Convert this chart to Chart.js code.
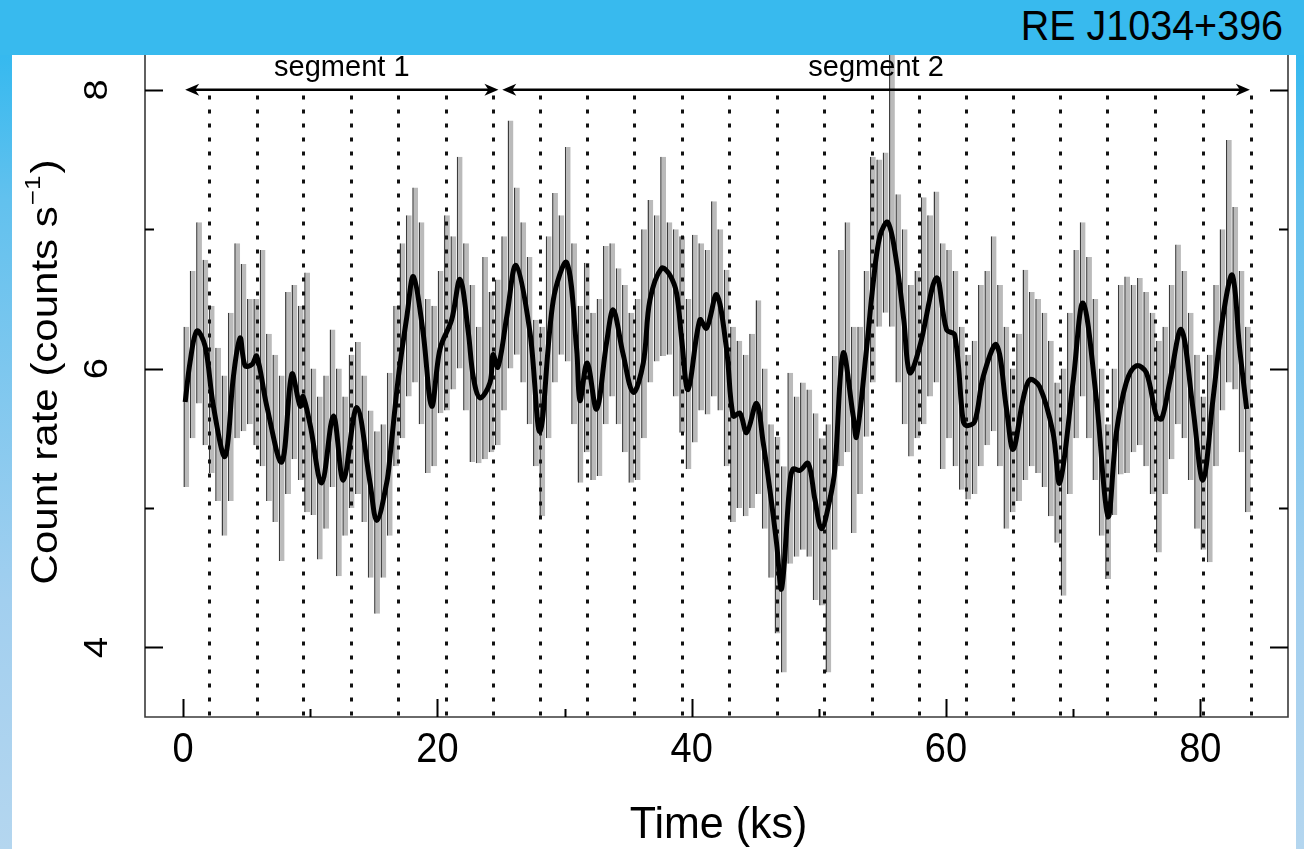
<!DOCTYPE html>
<html>
<head>
<meta charset="utf-8">
<title>RE J1034+396 light curve</title>
<script src="https://cdn.jsdelivr.net/npm/chart.js@4.4.1/dist/chart.umd.min.js"></script>
<style>
html, body { margin: 0; padding: 0; }
body {
    width: 1304px; height: 849px; overflow: hidden; position: relative;
    background: linear-gradient(to bottom, #36b9ef 0px, #36b9ef 56px, #62c1ee 200px, #a2cfef 600px, #b4d6ef 849px);
}
#band { position: absolute; left: 0; top: 0; width: 1304px; height: 55px; background: #38baee; }
#panel { position: absolute; left: 12px; top: 55px; width: 1284px; height: 794px; background: #fff; }
#title { position: absolute; right: 21px; top: 5px; font: 42px/42px "Liberation Sans", Arial, sans-serif; color: #000;
         transform: scaleX(0.94); transform-origin: right center; }
#lc { position: absolute; left: 0; top: 0; }
</style>
</head>
<body>
<div id="band"></div>
<div id="panel"></div>
<div id="title">RE J1034+396</div>
<canvas id="lc" width="1304" height="849"></canvas>
<script>
// light curve in 0.5 ks bins: bin centre (ks) and extent of the error bars (counts/s)
const binTime = [
    0.25, 0.75, 1.25, 1.75, 2.25, 2.75, 3.25, 3.75, 4.25, 4.75, 5.25, 5.75, 6.25, 6.75, 7.25, 7.75, 8.25, 8.75, 9.25, 9.75,
    10.25, 10.75, 11.25, 11.75, 12.25, 12.75, 13.25, 13.75, 14.25, 14.75, 15.25, 15.75, 16.25, 16.75, 17.25, 17.75, 18.25, 18.75, 19.25, 19.75,
    20.25, 20.75, 21.25, 21.75, 22.25, 22.75, 23.25, 23.75, 24.25, 24.75, 25.25, 25.75, 26.25, 26.75, 27.25, 27.75, 28.25, 28.75, 29.25, 29.75,
    30.25, 30.75, 31.25, 31.75, 32.25, 32.75, 33.25, 33.75, 34.25, 34.75, 35.25, 35.75, 36.25, 36.75, 37.25, 37.75, 38.25, 38.75, 39.25, 39.75,
    40.25, 40.75, 41.25, 41.75, 42.25, 42.75, 43.25, 43.75, 44.25, 44.75, 45.25, 45.75, 46.25, 46.75, 47.25, 47.75, 48.25, 48.75, 49.25, 49.75,
    50.25, 50.75, 51.25, 51.75, 52.25, 52.75, 53.25, 53.75, 54.25, 54.75, 55.25, 55.75, 56.25, 56.75, 57.25, 57.75, 58.25, 58.75, 59.25, 59.75,
    60.25, 60.75, 61.25, 61.75, 62.25, 62.75, 63.25, 63.75, 64.25, 64.75, 65.25, 65.75, 66.25, 66.75, 67.25, 67.75, 68.25, 68.75, 69.25, 69.75,
    70.25, 70.75, 71.25, 71.75, 72.25, 72.75, 73.25, 73.75, 74.25, 74.75, 75.25, 75.75, 76.25, 76.75, 77.25, 77.75, 78.25, 78.75, 79.25, 79.75,
    80.25, 80.75, 81.25, 81.75, 82.25, 82.75, 83.25, 83.75
];
const binLow = [
    5.15, 5.5, 5.75, 5.45, 5.25, 5.05, 4.8, 5.05, 5.5, 5.55, 5.6, 5.45, 5.3, 5.05, 4.9, 4.62, 5.1, 5.35, 5.2, 4.97,
    4.95, 4.63, 4.85, 5.15, 4.51, 4.8, 5.0, 5.1, 4.9, 4.5, 4.24, 4.5, 4.8, 5.3, 5.5, 5.8, 5.9, 5.6, 5.25, 5.3,
    5.68, 5.7, 5.85, 6.0, 5.7, 5.33, 5.32, 5.35, 5.4, 5.45, 5.7, 6.0, 6.1, 5.9, 5.6, 5.3, 4.94, 5.5, 5.9, 6.1,
    6.05, 5.6, 5.18, 5.4, 5.2, 5.23, 5.6, 5.8, 5.6, 5.4, 5.18, 5.2, 5.5, 5.9, 6.05, 6.09, 6.1, 5.8, 5.54, 5.28,
    5.47, 5.7, 5.67, 5.8, 5.7, 5.3, 4.9, 5.0, 4.94, 5.0, 5.1, 4.85, 4.5, 4.1, 3.82, 4.6, 4.65, 4.7, 4.65, 4.34,
    4.3, 3.82, 4.7, 5.3, 5.4, 4.82, 5.1, 5.51, 5.9, 6.3, 6.4, 6.3, 5.9, 5.6, 5.37, 5.5, 5.6, 5.8, 5.9, 5.28,
    5.5, 5.3, 5.13, 5.06, 5.1, 5.3, 5.45, 5.55, 5.3, 4.85, 4.97, 5.05, 5.2, 5.3, 5.25, 5.15, 4.94, 4.75, 4.37, 5.1,
    5.5, 5.8, 5.5, 5.2, 4.8, 4.49, 4.95, 5.24, 5.25, 5.4, 5.45, 5.3, 5.1, 4.68, 5.1, 5.35, 5.6, 5.5, 5.2, 4.85,
    4.7, 4.61, 5.3, 5.7, 5.9, 5.85, 5.4, 4.97
];
const binHigh = [
    6.3, 6.7, 7.05, 6.78, 6.45, 6.15, 5.95, 6.4, 6.9, 6.75, 6.5, 6.5, 6.85, 6.25, 6.1, 5.95, 6.55, 6.6, 6.45, 6.69,
    6.0, 5.8, 5.95, 6.28, 6.0, 5.8, 6.1, 6.19, 5.95, 5.7, 5.55, 5.6, 5.97, 6.45, 6.9, 7.1, 7.3, 7.05, 6.5, 6.45,
    6.7, 7.1, 6.95, 7.52, 6.9, 6.6, 6.3, 6.8, 6.55, 6.64, 6.95, 7.78, 7.3, 7.05, 6.8, 6.35, 6.3, 6.95, 7.26, 7.1,
    7.59, 6.9, 6.45, 6.76, 6.4, 6.5, 6.88, 6.9, 6.72, 6.6, 6.4, 6.5, 7.0, 7.21, 7.1, 7.52, 7.05, 7.0, 6.95, 6.5,
    6.96, 6.9, 6.85, 7.2, 7.0, 6.71, 6.3, 6.2, 6.1, 6.25, 6.49, 6.0, 5.6, 5.51, 5.3, 5.97, 5.8, 5.9, 5.85, 5.68,
    5.5, 5.6, 6.09, 6.85, 7.05, 6.3, 6.3, 6.7, 7.52, 7.5, 7.55, 8.3, 7.25, 7.0, 6.6, 6.7, 7.23, 7.1, 7.27, 6.9,
    6.85, 6.7, 6.3, 6.1, 6.2, 6.6, 6.7, 6.95, 6.6, 6.3, 6.0, 6.25, 6.71, 6.55, 6.5, 6.4, 6.2, 5.9, 6.0, 6.4,
    6.85, 7.05, 6.8, 6.5, 6.0, 5.6, 6.0, 6.6, 6.66, 6.6, 6.65, 6.55, 6.4, 6.2, 6.3, 6.6, 6.89, 6.7, 6.4, 6.1,
    5.8, 6.1, 6.6, 7.0, 7.64, 7.16, 6.7, 6.3
];

// smoothed light curve (black line)
const smoothTime = [
    0.16, 0.55, 1.08, 1.73, 2.38, 3.30, 3.95, 4.48, 4.87, 5.42, 5.79, 6.58, 7.76, 8.55, 9.20, 9.43, 9.98, 10.90, 11.82, 12.60,
    13.66, 14.70, 15.23, 16.01, 16.27, 16.93, 17.59, 18.11, 18.87, 19.55, 20.20, 21.12, 21.78, 22.43, 22.82, 23.35, 24.14, 24.37, 24.76, 25.45,
    26.18, 27.28, 28.07, 29.11, 30.17, 30.95, 31.21, 31.78, 32.52, 33.31, 33.83, 34.59, 35.40, 36.19, 36.71, 37.63, 38.29, 38.81, 39.21, 39.72,
    40.64, 41.17, 41.96, 42.74, 43.26, 43.79, 44.32, 45.10, 45.62, 46.15, 46.67, 47.07, 47.72, 47.98, 48.51, 49.16, 49.69, 50.21, 50.86, 51.26,
    51.91, 52.70, 52.96, 53.75, 54.27, 54.80, 55.42, 56.05, 56.68, 57.15, 57.94, 59.25, 60.04, 60.69, 61.34, 61.61, 62.26, 62.92, 63.97, 64.76,
    65.28, 66.06, 66.59, 67.37, 68.42, 68.95, 69.99, 70.78, 71.83, 72.74, 73.40, 74.18, 74.97, 75.76, 76.55, 76.97, 77.59, 78.51, 79.43, 80.21,
    81.00, 81.78, 82.52, 83.10, 83.65
];
const smoothRate = [
    5.76, 6.05, 6.27, 6.16, 5.73, 5.37, 5.94, 6.22, 6.02, 6.03, 6.09, 5.73, 5.33, 5.96, 5.73, 5.80, 5.60, 5.18, 5.66, 5.20,
    5.72, 5.18, 4.91, 5.18, 5.37, 5.94, 6.37, 6.66, 6.26, 5.73, 6.14, 6.35, 6.64, 6.26, 5.94, 5.79, 5.90, 6.10, 6.01, 6.37,
    6.74, 6.26, 5.55, 6.49, 6.76, 6.14, 5.77, 6.04, 5.71, 6.19, 6.42, 6.11, 5.83, 6.04, 6.49, 6.72, 6.67, 6.54, 6.21, 5.85,
    6.35, 6.29, 6.53, 6.14, 5.66, 5.68, 5.54, 5.75, 5.47, 5.13, 4.75, 4.42, 5.18, 5.28, 5.27, 5.32, 5.06, 4.85, 5.06, 5.28,
    6.11, 5.66, 5.51, 6.14, 6.61, 6.95, 7.05, 6.80, 6.35, 5.97, 6.16, 6.65, 6.28, 6.24, 5.63, 5.59, 5.62, 5.94, 6.17, 5.71,
    5.42, 5.78, 5.92, 5.87, 5.54, 5.18, 5.90, 6.47, 5.78, 4.94, 5.54, 5.90, 6.02, 5.97, 5.66, 5.64, 5.90, 6.28, 5.71, 5.20,
    5.78, 6.37, 6.67, 6.14, 5.71
];

// dotted lines one QPO period apart (ks)
const foldTimes = [2.04, 5.78, 9.43, 13.18, 16.9, 20.7, 24.4, 28.07, 31.8, 35.5, 39.2, 42.9,
    46.7, 50.4, 54.2, 57.9, 61.6, 65.3, 69.0, 72.7, 76.4, 80.2, 84.0];

const segStart = [0.16, 25.1];
const segEnd = [24.8, 83.9];
const segLabels = ['segment 1', 'segment 2'];
const segLevel = 8;

const xTicks = [0, 20, 40, 60, 80];
const xMinorTicks = [10, 30, 50, 70];
const yTicks = [4, 6, 8];
const yMinorTicks = [5, 7];

const FONT = '"Liberation Sans", Arial, Helvetica, sans-serif';

function drawText(ctx, s, x, y, size, o) {
    o = o || {};
    ctx.save();
    ctx.translate(x, y);
    if (o.rotate) {
        ctx.scale(o.sx || 1, 1);
        ctx.rotate(-Math.PI / 2);
    } else {
        ctx.scale(o.sx || 1, o.sy || 1);
    }
    ctx.font = size + 'px ' + FONT;
    ctx.fillStyle = '#000';
    ctx.textAlign = o.align || 'center';
    ctx.textBaseline = o.baseline || 'middle';
    ctx.fillText(s, 0, 0);
    ctx.restore();
}

function drawYTitle(ctx, x, y) {
    const main = 'Count rate (counts s', sup = '\u22121', tail = ')';
    ctx.save();
    ctx.translate(x, y);
    ctx.scale(0.86, 1);
    ctx.rotate(-Math.PI / 2);
    ctx.fillStyle = '#000';
    ctx.textBaseline = 'middle';
    ctx.textAlign = 'left';
    ctx.font = '42px ' + FONT;
    const w1 = ctx.measureText(main).width;
    const w3 = ctx.measureText(tail).width;
    ctx.font = '26px ' + FONT;
    const w2 = ctx.measureText(sup).width;
    let u = -(w1 + w2 + w3 + 3) / 2;
    ctx.font = '42px ' + FONT;
    ctx.fillText(main, u, 0);
    u += w1 + 1;
    ctx.font = '26px ' + FONT;
    ctx.fillText(sup, u, -15);
    u += w2 + 2;
    ctx.font = '42px ' + FONT;
    ctx.fillText(tail, u, 0);
    ctx.restore();
}

function arrowHead(ctx, x, y, dir) {
    // dir = -1 points left, +1 points right
    ctx.beginPath();
    ctx.moveTo(x, y);
    ctx.lineTo(x - dir * 14, y - 6);
    ctx.lineTo(x - dir * 10, y);
    ctx.lineTo(x - dir * 14, y + 6);
    ctx.closePath();
    ctx.fill();
}

const decor = {
    id: 'decor',
    afterDatasetDraw(chart, args) {
        if (args.index !== 1) return;
        // dotted period markers over the grey bins
        const {ctx, chartArea: a, scales: {x, y}} = chart;
        ctx.save();
        ctx.strokeStyle = '#111';
        ctx.lineWidth = 3;
        ctx.setLineDash([4, 10]);
        const top = y.getPixelForValue(7.96);
        foldTimes.forEach(t => {
            const px = Math.round(x.getPixelForValue(t)) + 0.5;
            ctx.beginPath();
            ctx.moveTo(px, top);
            ctx.lineTo(px, a.bottom);
            ctx.stroke();
        });
        ctx.restore();
    },
    afterDraw(chart) {
        const {ctx, chartArea: a, scales: {x, y}} = chart;
        ctx.save();

        // frame: left, bottom, right (top is cut by the banner)
        ctx.strokeStyle = '#3a3a3a';
        ctx.lineWidth = 1.6;
        ctx.beginPath();
        ctx.moveTo(a.left, a.top);
        ctx.lineTo(a.left, a.bottom);
        ctx.lineTo(a.right, a.bottom);
        ctx.lineTo(a.right, a.top);
        ctx.stroke();

        // inward ticks
        ctx.strokeStyle = '#000';
        ctx.lineWidth = 2;
        ctx.beginPath();
        yTicks.forEach(v => {
            const py = Math.round(y.getPixelForValue(v)) + 0.5;
            ctx.moveTo(a.left, py); ctx.lineTo(a.left + 18, py);
            ctx.moveTo(a.right, py); ctx.lineTo(a.right - 18, py);
        });
        yMinorTicks.forEach(v => {
            const py = Math.round(y.getPixelForValue(v)) + 0.5;
            ctx.moveTo(a.left, py); ctx.lineTo(a.left + 9, py);
            ctx.moveTo(a.right, py); ctx.lineTo(a.right - 9, py);
        });
        xTicks.forEach(v => {
            const px = Math.round(x.getPixelForValue(v)) + 0.5;
            ctx.moveTo(px, a.bottom); ctx.lineTo(px, a.bottom - 18);
        });
        xMinorTicks.forEach(v => {
            const px = Math.round(x.getPixelForValue(v)) + 0.5;
            ctx.moveTo(px, a.bottom); ctx.lineTo(px, a.bottom - 8);
        });
        ctx.stroke();

        // tick labels and axis titles
        xTicks.forEach(v => drawText(ctx, String(v), x.getPixelForValue(v), 750, 38, {sy: 1.1}));
        yTicks.forEach(v => drawText(ctx, String(v), 98, y.getPixelForValue(v), 38, {rotate: true, sx: 0.85}));
        drawText(ctx, 'Time (ks)', (a.left + a.right) / 2 + 2, 826, 43, {sy: 1.05});
        drawYTitle(ctx, 47, 372);

        // segment arrows
        const py = y.getPixelForValue(segLevel);
        ctx.fillStyle = '#000';
        ctx.strokeStyle = '#000';
        ctx.lineWidth = 2.5;
        segStart.forEach((s, i) => {
            const x1 = x.getPixelForValue(s), x2 = x.getPixelForValue(segEnd[i]);
            ctx.beginPath();
            ctx.moveTo(x1 + 8, py);
            ctx.lineTo(x2 - 8, py);
            ctx.stroke();
            arrowHead(ctx, x1, py, -1);
            arrowHead(ctx, x2, py, 1);
            drawText(ctx, segLabels[i], (x1 + x2) / 2, 76, 29, {baseline: 'alphabetic'});
        });
        ctx.restore();
    }
};

new Chart(document.getElementById('lc'), {
    type: 'bar',
    data: {
        datasets: [
            {
                type: 'line',
                label: 'smoothed',
                data: smoothTime.map((t, i) => ({x: t, y: smoothRate[i]})),
                borderColor: '#000',
                borderWidth: 5,
                pointRadius: 0,
                tension: 0.35,
                order: 0
            },
            {
                type: 'bar',
                label: 'binned',
                data: binTime.map((t, i) => ({x: t, y: [binLow[i], binHigh[i]]})),
                backgroundColor: '#bababa',
                borderColor: '#3c3c3c',
                borderWidth: {left: 1.5, right: 0, top: 0, bottom: 0},
                borderSkipped: false,
                inflateAmount: 0,
                barPercentage: 0.92,
                categoryPercentage: 1,
                order: 1
            }
        ]
    },
    options: {
        responsive: false,
        animation: false,
        devicePixelRatio: 1,
        events: [],
        layout: {padding: {left: 145, right: 16, top: 55, bottom: 132}},
        plugins: {legend: {display: false}, tooltip: {enabled: false}},
        scales: {
            x: {type: 'linear', min: -3, max: 86.9, offset: false, bounds: 'data', display: false},
            y: {type: 'linear', min: 3.5, max: 8.25, bounds: 'data', beginAtZero: false, display: false}
        }
    },
    plugins: [decor]
});
</script>
</body>
</html>
